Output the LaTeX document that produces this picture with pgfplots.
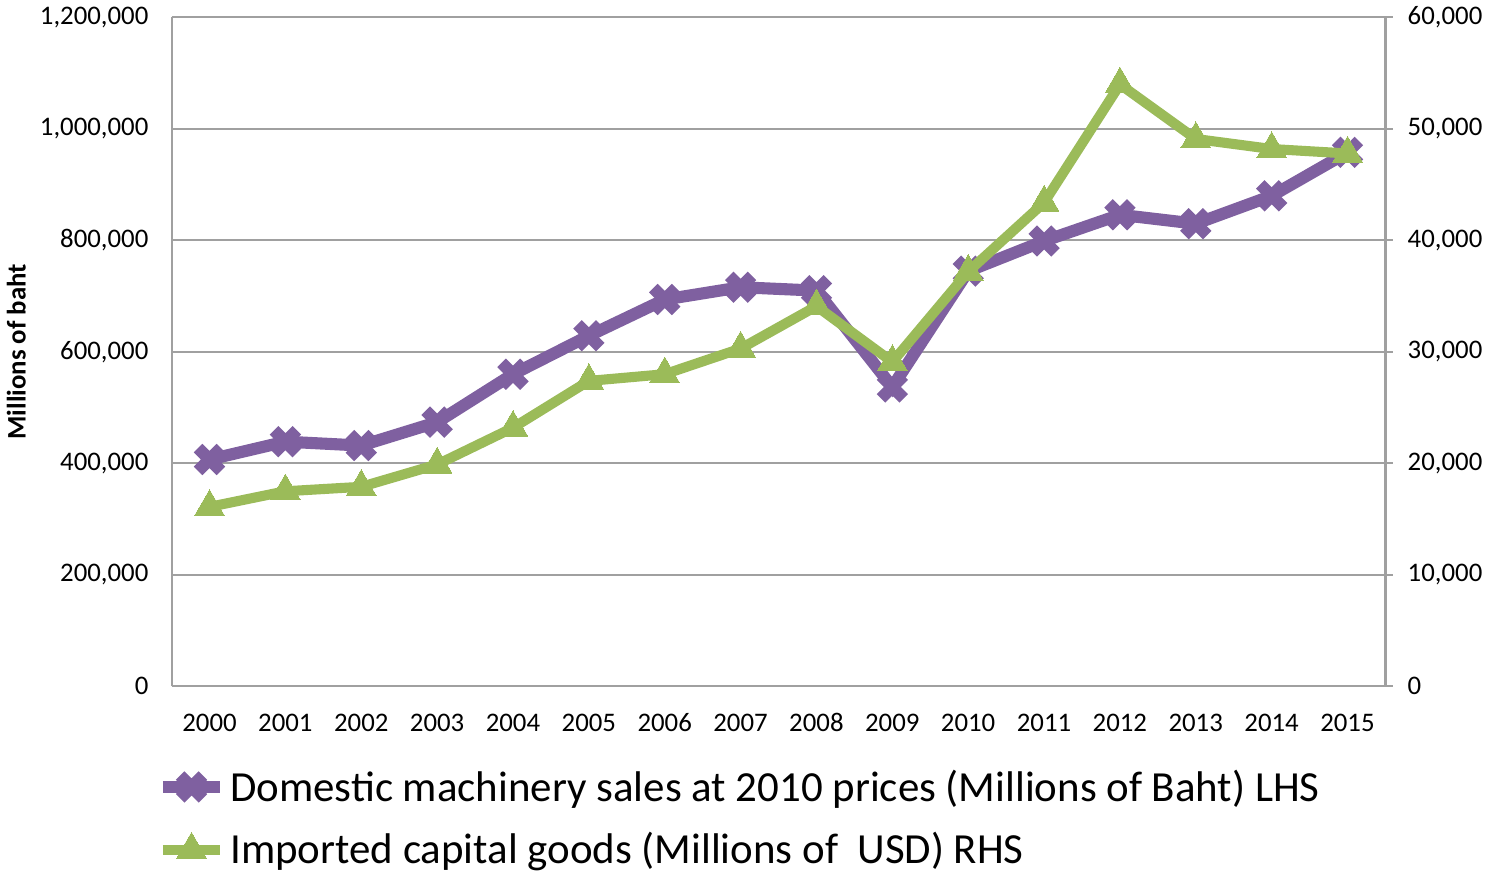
\documentclass[border=0pt]{standalone}
\usepackage{fontspec}
\setmainfont{Carlito}
\usepackage{pgfplots}
\usepackage{pgfplotstable}
\pgfplotsset{compat=1.18}
\definecolor{purp}{HTML}{7F60A0}
\definecolor{grn}{HTML}{9BBB59}
\definecolor{gridc}{HTML}{A0A0A0}

\pgfplotsset{
  base/.style={
    scale only axis, width=602.5pt, height=332pt,
    xmin=1999.5, xmax=2015.5, ymin=0,
    axis line style={gridc, line width=1pt},
    tick style={gridc, line width=1pt},
    tick label style={font=\fontsize{13.3}{16}\selectfont},
    /pgf/number format/assume math mode=true,
    /pgf/number format/fixed,
    /pgf/number format/1000 sep={,},
    scaled ticks=false,
    xtick={2000,...,2015},
    xticklabels={2000,2001,2002,2003,2004,2005,2006,2007,2008,2009,2010,2011,2012,2013,2014,2015},
    legend image code/.code={
      \draw[mark repeat=2,mark phase=2,##1] plot coordinates {(0cm,0cm) (0.5cm,0cm) (1cm,0cm)};
    },
  }
}

\pgfplotstableread{
year dom
2000 407000
2001 439000
2002 432000
2003 474000
2004 560000
2005 629000
2006 694000
2007 716000
2008 710000
2009 537000
2010 745000
2011 799000
2012 846000
2013 830000
2014 880000
2015 958000
}\domestic

\pgfplotstableread{
year imp
2000 16100
2001 17500
2002 17900
2003 19900
2004 23200
2005 27400
2006 28000
2007 30300
2008 34100
2009 29100
2010 37200
2011 43400
2012 54000
2013 49100
2014 48200
2015 47800
}\imported

\begin{document}
\begin{tikzpicture}
\begin{axis}[base,
  ymax=1200000, ytick={0,200000,...,1200000},
  axis x line*=bottom, axis y line*=left,
  major tick length=0pt,
  ymajorgrids, grid style={gridc, line width=1pt},
  x tick label style={yshift=-10pt},
  y tick label style={xshift=-8pt},
  ylabel={\textbf{Millions of baht}},
  ylabel style={at={(axis description cs:-0.128,0.5)}, anchor=center, font=\fontsize{13.3}{16}\selectfont},
  legend cell align=left,
  legend style={draw=none, fill=none, at={(axis description cs:-0.0125,-0.118)}, anchor=north west,
    inner sep=0pt, font=\fontsize{21.3}{26}\selectfont, row sep=10pt},
]
\addplot[purp, line width=6pt, mark=x, mark size=8pt, mark options={line width=6pt}] table[x=year,y=dom] {\domestic};
\addlegendentry{Domestic machinery sales at 2010 prices (Millions of Baht) LHS}
\addlegendimage{grn, line width=5pt, mark=triangle*, mark size=8.5pt, mark options={line width=0pt}}
\addlegendentry{Imported capital goods (Millions of\ \ USD) RHS}
\end{axis}
\begin{axis}[base,
  ymax=60000, ytick={0,10000,...,60000},
  axis y line*=right, axis x line=none,
  y tick label style={xshift=4pt},
  tick align=outside, major tick length=3.5pt,
]
\addplot[grn, line width=5pt, line join=round, mark=triangle*, mark size=8.5pt, mark options={line width=0pt}] table[x=year,y=imp] {\imported};
\end{axis}
\end{tikzpicture}
\end{document}
